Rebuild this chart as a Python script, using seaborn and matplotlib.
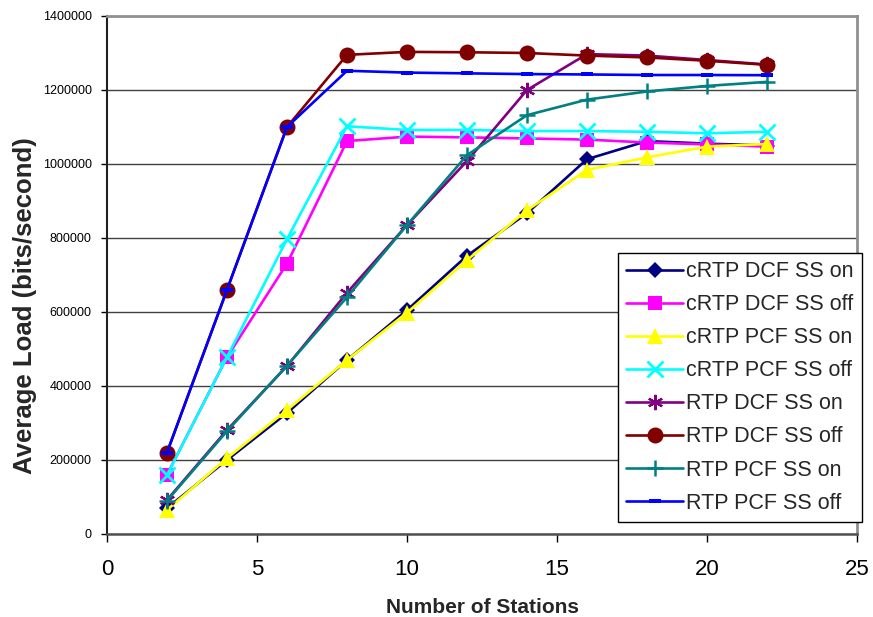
import matplotlib
matplotlib.use("Agg")
import matplotlib.pyplot as plt
import seaborn as sns

# Data
stations = [2, 4, 6, 8, 10, 12, 14, 16, 18, 20, 22]

crtp_dcf_on = [70000, 200000, 327000, 470000, 605000, 752000, 867000, 1013000, 1062000, 1055000, 1050000]
crtp_dcf_off = [160000, 478000, 731000, 1062000, 1074000, 1072000, 1069000, 1066000, 1058000, 1053000, 1047000]
crtp_pcf_on = [65000, 205000, 335000, 470000, 598000, 740000, 875000, 984000, 1018000, 1047000, 1054000]
crtp_pcf_off = [159000, 478000, 797000, 1102000, 1092000, 1092000, 1089000, 1089000, 1087000, 1083000, 1087000]
rtp_dcf_on = [92000, 281000, 454000, 652000, 835000, 1008000, 1200000, 1297000, 1293000, 1281000, 1269000]
rtp_dcf_off = [220000, 660000, 1100000, 1295000, 1303000, 1302000, 1300000, 1293000, 1288000, 1279000, 1268000]
rtp_pcf_on = [90000, 278000, 455000, 640000, 835000, 1024000, 1132000, 1174000, 1196000, 1211000, 1222000]
rtp_pcf_off = [220000, 660000, 1100000, 1252000, 1247000, 1245000, 1243000, 1242000, 1240500, 1240500, 1240000]

series_names = ["cRTP DCF SS on", "cRTP DCF SS off", "cRTP PCF SS on", "cRTP PCF SS off",
                "RTP DCF SS on", "RTP DCF SS off", "RTP PCF SS on", "RTP PCF SS off"]
series_values = [crtp_dcf_on, crtp_dcf_off, crtp_pcf_on, crtp_pcf_off,
                 rtp_dcf_on, rtp_dcf_off, rtp_pcf_on, rtp_pcf_off]

dash = [(-1, -0.4), (1, -0.4), (1, 0.4), (-1, 0.4), (-1, -0.4)]
styles = [
    dict(color="#000080", marker="D", markersize=8.5, markeredgewidth=0),
    dict(color="#FF00FF", marker="s", markersize=10.5, markeredgewidth=0),
    dict(color="#FFFF00", marker="^", markersize=12, markeredgewidth=0),
    dict(color="#00FFFF", marker="x", markersize=11, markeredgewidth=2),
    dict(color="#800080", marker=(6, 2, 0), markersize=11, markeredgewidth=1.6),
    dict(color="#800000", marker="o", markersize=11.5, markeredgewidth=0),
    dict(color="#008080", marker="+", markersize=12, markeredgewidth=1.8),
    dict(color="#0000FF", marker=dash, markersize=8, markeredgewidth=0),
]

sns.set_theme(style="white")
plt.rcParams["font.family"] = ["Liberation Sans", "DejaVu Sans"]

fig = plt.figure(figsize=(8.73, 6.17), dpi=100)
ax = fig.add_axes([107 / 873, 83 / 617, 750 / 873, 518 / 617])

for name, vals, st in zip(series_names, series_values, styles):
    sns.lineplot(x=stations, y=vals, ax=ax, label=name, linewidth=1.9,
                 markerfacecolor=st["color"], markeredgecolor=st["color"], **st)

ax.set_xlim(0, 25)
ax.set_ylim(0, 1400000)
ax.set_xticks(range(0, 26, 5))
ax.set_yticks(range(0, 1400001, 200000))
ax.ticklabel_format(axis="y", style="plain")
ax.yaxis.grid(True, color="#404040", linewidth=1)
ax.xaxis.grid(False)
ax.set_axisbelow(True)

ax.tick_params(axis="y", direction="out", length=4, width=1, labelsize=9, pad=7, left=True, colors="black")
ax.tick_params(axis="x", direction="out", length=6, width=1, labelsize=16, pad=12, bottom=True, colors="black")
ax.spines["left"].set_color("#202020")
ax.spines["left"].set_linewidth(1.5)
ax.spines["bottom"].set_color("#505050")
ax.spines["bottom"].set_linewidth(1.8)
ax.spines["top"].set_color("#909090")
ax.spines["top"].set_linewidth(2)
ax.spines["right"].set_color("#909090")
ax.spines["right"].set_linewidth(2)

ax.set_xlabel("Number of Stations", fontsize=15, fontweight="bold")
ax.set_ylabel("Average Load (bits/second)", fontsize=18.5, fontweight="bold")
ax.xaxis.label.set_va("center")
ax.xaxis.set_label_coords(0.5, -0.141)
ax.yaxis.label.set_va("center")
ax.yaxis.set_label_coords(-0.109, 0.44)

leg = ax.legend(loc="upper left", bbox_to_anchor=(618 / 873, 1 - 253 / 617),
                bbox_transform=fig.transFigure, fontsize=15.5, frameon=True,
                fancybox=False, edgecolor="black", framealpha=1,
                handlelength=2.65, handletextpad=0.15, labelspacing=0.56,
                borderpad=0.38, borderaxespad=0)
leg.get_frame().set_linewidth(1)

fig.savefig("out.png", dpi=100)
